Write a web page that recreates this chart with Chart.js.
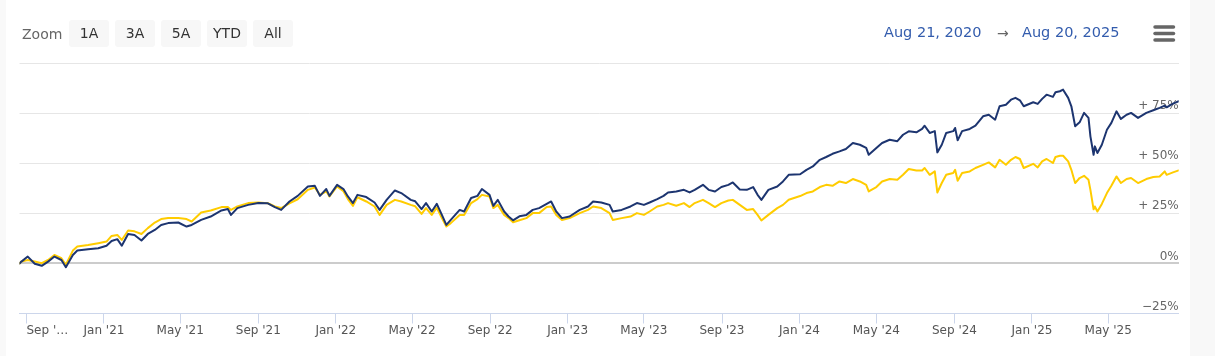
<!DOCTYPE html>
<html><head><meta charset="utf-8">
<script src="https://cdn.jsdelivr.net/npm/chart.js@4.4.1/dist/chart.umd.min.js"></script>
<style>
html,body{margin:0;padding:0;background:#fff;width:1215px;height:356px;overflow:hidden;font-family:"DejaVu Sans",sans-serif;}
#wrap{position:relative;width:1215px;height:356px;}
canvas{position:absolute;left:0;top:0;}
.lbl{position:absolute;font-size:14px;color:#666;line-height:16px;white-space:nowrap;}
.btn{position:absolute;top:20px;width:40px;height:27px;line-height:27px;background:#f7f7f7;border-radius:3px;text-align:center;font-size:14px;color:#333;}
.date{position:absolute;top:24px;font-size:14.5px;color:#335cad;line-height:17px;white-space:nowrap;}
</style></head>
<body><div id="wrap">
<div style="position:absolute;left:0;top:0;width:6px;height:356px;background:#f9f9f9"></div>
<div style="position:absolute;left:1190px;top:0;width:25px;height:356px;background:#f8f8f8"></div>
<canvas id="c" width="1215" height="356"></canvas>
<div class="lbl" style="left:22px;top:26px">Zoom</div>
<div class="btn" style="left:69px">1A</div>
<div class="btn" style="left:115px">3A</div>
<div class="btn" style="left:161px">5A</div>
<div class="btn" style="left:207px">YTD</div>
<div class="btn" style="left:253px">All</div>
<div class="date" style="left:884px">Aug 21, 2020</div>
<div class="lbl" style="left:997px;top:25px">→</div>
<div class="date" style="left:1022px">Aug 20, 2025</div>
<svg style="position:absolute;left:1150px;top:20px" width="30" height="26">
<g stroke="#666" stroke-width="3.5" stroke-linecap="round">
<line x1="5" y1="7" x2="23.5" y2="7"/><line x1="5" y1="13.5" x2="23.5" y2="13.5"/><line x1="5" y1="20" x2="23.5" y2="20"/>
</g></svg>
</div>
<script>
const startDate = '2020-08-21';
const endDate = '2025-08-20';
const dates = ['2020-08-21','2020-08-24','2020-09-03','2020-09-14','2020-09-25','2020-10-05','2020-10-15','2020-10-26','2020-11-02','2020-11-13','2020-11-20','2020-12-07','2020-12-23',
'2021-01-05','2021-01-13','2021-01-22','2021-01-29','2021-02-08','2021-02-18','2021-03-01','2021-03-11','2021-03-22','2021-04-01','2021-04-12','2021-04-28','2021-05-11','2021-05-19','2021-06-03','2021-06-18','2021-07-05','2021-07-15','2021-07-20','2021-07-30','2021-08-16','2021-09-01','2021-09-16','2021-09-27','2021-10-07','2021-10-20','2021-11-02','2021-11-18','2021-11-29','2021-12-07','2021-12-17','2021-12-22',
'2022-01-03','2022-01-13','2022-01-20','2022-01-28','2022-02-04','2022-02-18','2022-03-03','2022-03-11','2022-03-22','2022-04-04','2022-04-14','2022-04-29','2022-05-06','2022-05-16','2022-05-23','2022-06-01','2022-06-09','2022-06-17','2022-06-24','2022-07-01','2022-07-15','2022-07-22','2022-08-02','2022-08-12','2022-08-19','2022-08-31','2022-09-06','2022-09-13','2022-09-23','2022-09-30','2022-10-07','2022-10-17','2022-10-28','2022-11-07','2022-11-17','2022-11-29','2022-12-06','2022-12-14','2022-12-23',
'2023-01-04','2023-01-20','2023-02-02','2023-02-10','2023-02-23','2023-03-08','2023-03-13','2023-03-27','2023-04-10','2023-04-20','2023-05-01','2023-05-10','2023-05-22','2023-06-01','2023-06-08','2023-06-21','2023-07-03','2023-07-12','2023-07-20','2023-08-02','2023-08-11','2023-08-21','2023-08-31','2023-09-11','2023-09-18','2023-09-29','2023-10-10','2023-10-20','2023-10-27','2023-11-02','2023-11-13','2023-11-27','2023-12-06','2023-12-15',
'2024-01-02','2024-01-12','2024-01-22','2024-02-02','2024-02-12','2024-02-22','2024-03-04','2024-03-14','2024-03-25','2024-04-05','2024-04-15','2024-04-19','2024-05-01','2024-05-10','2024-05-22','2024-06-03','2024-06-12','2024-06-21','2024-07-03','2024-07-12','2024-07-16','2024-07-24','2024-08-01','2024-08-05','2024-08-12','2024-08-19','2024-08-30','2024-09-02','2024-09-06','2024-09-13','2024-09-25','2024-10-04','2024-10-16','2024-10-25','2024-11-04','2024-11-11','2024-11-21','2024-11-29','2024-12-06','2024-12-13','2024-12-19',
'2025-01-03','2025-01-10','2025-01-17','2025-01-24','2025-02-03','2025-02-07','2025-02-14','2025-02-19','2025-02-27','2025-03-04','2025-03-07','2025-03-10','2025-03-17','2025-03-24','2025-03-31','2025-04-03','2025-04-08','2025-04-10','2025-04-14','2025-04-21','2025-04-29','2025-05-06','2025-05-14','2025-05-21','2025-05-30','2025-06-06','2025-06-17','2025-06-30','2025-07-11','2025-07-21','2025-07-29','2025-08-01','2025-08-11','2025-08-20'];
const navyValues = [0,0.9,3.4,-0.2,-1.2,0.9,3.4,1.7,-1.9,4.2,6.4,7.1,7.6,
8.8,11.2,12.1,8.8,14.7,14.2,11.4,14.7,16.7,19.2,20.1,20.4,18.4,19.2,21.7,23.4,26.4,27.1,24.2,27.6,29.2,30.1,30.0,28.1,26.7,30.9,33.7,38.4,38.7,33.7,37.1,33.7,
39.2,37.1,33.4,30.1,34.2,33.1,30.4,26.7,31.7,36.4,35.1,31.7,31.0,27.1,30.1,25.9,29.7,24.2,19.2,21.7,26.7,25.9,32.6,33.7,37.1,34.2,28.7,31.7,25.9,23.4,21.5,23.5,24.2,26.7,27.6,29.7,30.9,25.9,22.6,
23.4,26.7,28.4,30.9,30.4,29.2,25.9,26.7,28.4,30.1,29.2,30.4,32.1,33.7,35.4,35.9,36.7,35.4,36.7,39.2,36.7,35.9,38.1,39.2,40.4,36.9,36.7,38.1,34.2,31.7,36.7,38.4,40.9,44.2,
44.5,46.7,48.4,51.7,53.1,54.7,55.9,57.1,60.1,59.2,57.6,54.2,57.6,60.1,61.7,61.0,64.2,65.9,65.4,67.1,68.7,65.1,66.0,55.4,59.2,65.1,66.0,67.6,61.4,66.0,67.1,68.7,73.4,74.2,71.7,78.4,79.2,81.7,82.6,81.4,78.4,
80.4,79.6,82.1,84.2,83.1,85.4,85.9,86.7,82.6,78.4,73.4,68.4,70.4,75.1,72.6,63.4,54.2,58.4,55.1,59.2,66.7,70.1,75.9,72.1,74.2,75.1,72.6,75.1,76.4,77.6,78.7,77.9,79.7,80.9];
const goldValues = [0,0.9,1.7,0.9,0.1,1.7,4.2,2.6,-0.7,6.4,8.4,9.2,10.1,
10.9,13.7,14.2,11.7,16.4,16.0,14.7,17.6,20.4,22.1,22.6,22.6,22.1,20.9,25.4,26.4,28.1,28.1,26.7,28.4,30.1,30.4,30.0,28.4,27.6,30.0,32.0,36.7,37.9,34.2,36.0,33.4,
38.4,36.0,32.1,28.7,33.0,30.9,28.4,24.2,29.2,31.7,30.9,29.2,28.5,24.7,27.6,24.2,27.8,22.6,18.4,20.1,24.2,24.2,30.1,32.1,34.2,33.4,27.6,29.2,24.2,22.6,20.5,21.5,22.6,25.1,25.1,28.1,28.4,24.2,21.7,
22.6,25.1,26.7,28.4,27.6,25.1,21.7,22.6,23.4,25.1,24.2,25.9,28.4,29.2,30.1,28.8,30.1,28.1,30.1,31.7,30.1,28.1,30.1,31.4,31.7,29.2,26.7,27.1,24.2,21.4,24.2,27.6,29.2,31.8,
33.6,35.1,35.9,38.1,39.2,38.7,40.9,40.1,42.1,40.9,39.2,35.9,38.1,40.9,42.1,41.7,44.2,47.1,46.4,46.4,47.6,44.2,45.9,35.4,40.1,44.2,45.1,46.7,41.2,45.1,45.9,47.6,49.2,50.4,47.9,51.7,49.2,51.7,53.1,52.1,47.6,
49.7,47.9,50.9,52.1,50.1,53.1,53.7,53.7,50.9,46.7,43.4,40.1,42.6,43.7,41.7,36.7,27.0,28.4,25.9,29.7,35.1,38.7,43.4,40.1,42.1,42.6,40.1,42.1,43.1,43.4,45.9,44.2,45.4,46.4];
const tickDates = ['2020-09-01','2021-01-01','2021-05-01','2021-09-01','2022-01-01','2022-05-01','2022-09-01','2023-01-01','2023-05-01','2023-09-01','2024-01-01','2024-05-01','2024-09-01','2025-01-01','2025-05-01'];
const tickLabels = ["Sep '…","Jan '21","May '21","Sep '21","Jan '22","May '22","Sep '22","Jan '23","May '23","Sep '23","Jan '24","May '24","Sep '24","Jan '25","May '25"];
const yTickValues = [-25, 0, 25, 50, 75, 100];
const yTickLabels = ['\u221225%', '0%', '+ 25%', '+ 50%', '+ 75%', ''];

const DAY = 86400000;
const dayOf = s => Math.round((Date.parse(s + 'T00:00:00Z') - Date.parse(startDate + 'T00:00:00Z')) / DAY);
const toPoints = vals => dates.map((d, i) => ({x: dayOf(d), y: vals[i]}));
const nTicks = tickDates.length;

new Chart(document.getElementById('c'), {
  type: 'line',
  data: {
    datasets: [
      {data: toPoints(navyValues), borderColor: '#1d3570', borderWidth: 2, pointRadius: 0, tension: 0, borderJoinStyle: 'round', borderCapStyle: 'round', fill: false},
      {data: toPoints(goldValues), borderColor: '#ffcc00', borderWidth: 2, pointRadius: 0, tension: 0, borderJoinStyle: 'round', borderCapStyle: 'round', fill: false}
    ]
  },
  options: {
    responsive: false,
    animation: false,
    devicePixelRatio: 1,
    layout: {autoPadding: false, padding: {left: 19.5, right: 36.3, top: 63, bottom: 18.1}},
    plugins: {legend: {display: false}, tooltip: {enabled: false}},
    scales: {
      x: {
        type: 'linear', position: 'bottom', min: 0, max: dayOf(endDate),
        afterBuildTicks: s => { s.ticks = tickDates.concat([endDate]).map(d => ({value: dayOf(d)})); },
        ticks: {
          autoSkip: false, maxRotation: 0, minRotation: 0, padding: 0, color: '#555', align: 'inner',
          font: {family: 'DejaVu Sans', size: 12},
          callback: (v, i) => i < nTicks ? tickLabels[i] : ''
        },
        grid: {drawOnChartArea: false, drawTicks: true, tickLength: 10, lineWidth: 1,
          color: c => (c.index >= nTicks) ? 'rgba(0,0,0,0)' : '#ccd6eb'},
        border: {display: true, color: '#ccd6eb', width: 1}
      },
      y: {
        type: 'linear', position: 'right', min: -25, max: 100,
        afterBuildTicks: s => { s.ticks = yTickValues.map(v => ({value: v})); },
        ticks: {
          mirror: true, padding: 0, labelOffset: -7, color: '#666',
          font: {family: 'DejaVu Sans', size: 12},
          callback: (v, i) => yTickLabels[i]
        },
        grid: {
          drawTicks: false,
          color: c => (c.tick && c.tick.value === 0) ? '#cccccc' : ((c.tick && c.tick.value === -25) ? 'rgba(0,0,0,0)' : '#e6e6e6'),
          lineWidth: c => (c.tick && c.tick.value === 0) ? 2 : 1
        },
        border: {display: false}
      }
    }
  }
});
</script>
</body></html>
